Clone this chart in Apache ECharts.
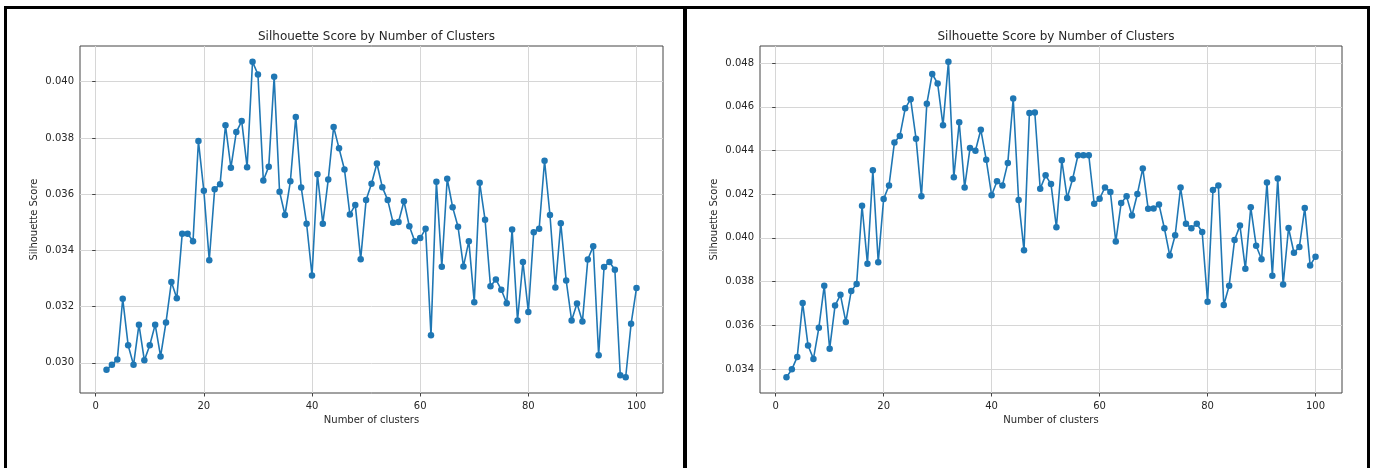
<!DOCTYPE html>
<html><head><meta charset="utf-8">
<script src="https://cdn.jsdelivr.net/npm/echarts@6/dist/echarts.min.js"></script>
<style>
html,body{margin:0;padding:0;background:#fff;}
#wrap{position:relative;width:1373px;height:468px;overflow:hidden;background:#fff;}
#chart{position:absolute;left:0;top:0;width:1373px;height:468px;}
.b{position:absolute;background:#000;}
</style></head><body>
<div id="wrap"><div id="chart"></div>
<div class="b" style="left:4px;top:6px;width:1366px;height:3px"></div>
<div class="b" style="left:4px;top:6px;width:3px;height:470px"></div>
<div class="b" style="left:683px;top:6px;width:4px;height:470px"></div>
<div class="b" style="left:1367px;top:6px;width:3px;height:470px"></div>
</div>
<script>
const clusters = [2,3,4,5,6,7,8,9,10,11,12,13,14,15,16,17,18,19,20,21,22,23,24,25,26,27,28,29,30,31,32,33,34,35,36,37,38,39,40,41,42,43,44,45,46,47,48,49,50,51,52,53,54,55,56,57,58,59,60,61,62,63,64,65,66,67,68,69,70,71,72,73,74,75,76,77,78,79,80,81,82,83,84,85,86,87,88,89,90,91,92,93,94,95,96,97,98,99,100];

const leftScores = [0.02976,0.02993,0.03012,0.03228,0.03063,0.02993,0.03136,0.03009,0.03063,0.03136,
0.03023,0.03144,0.03288,0.03230,0.03459,0.03459,0.03433,0.03789,0.03612,0.03365,
0.03618,0.03635,0.03845,0.03694,0.03821,0.03860,0.03696,0.04071,0.04026,0.03649,
0.03698,0.04018,0.03609,0.03526,0.03646,0.03875,0.03624,0.03495,0.03311,0.03671,
0.03495,0.03652,0.03839,0.03763,0.03688,0.03528,0.03562,0.03369,0.03579,0.03637,
0.03709,0.03625,0.03579,0.03498,0.03501,0.03575,0.03486,0.03433,0.03444,0.03477,
0.03098,0.03644,0.03342,0.03655,0.03554,0.03484,0.03343,0.03433,0.03216,0.03641,
0.03509,0.03273,0.03297,0.03260,0.03212,0.03474,0.03151,0.03359,0.03181,0.03465,
0.03477,0.03719,0.03526,0.03268,0.03497,0.03293,0.03151,0.03211,0.03147,0.03368,
0.03415,0.03027,0.03341,0.03359,0.03331,0.02956,0.02949,0.03139,0.03266];

const rightScores = [0.03362,0.03398,0.03455,0.03702,0.03507,0.03446,0.03588,0.03781,0.03492,0.03690,
0.03739,0.03615,0.03757,0.03789,0.04147,0.03882,0.04309,0.03888,0.04178,0.04240,
0.04437,0.04466,0.04593,0.04635,0.04454,0.04190,0.04614,0.04750,0.04707,0.04515,
0.04806,0.04277,0.04529,0.04231,0.04411,0.04399,0.04495,0.04358,0.04195,0.04259,
0.04240,0.04343,0.04638,0.04173,0.03943,0.04571,0.04574,0.04225,0.04286,0.04246,
0.04048,0.04355,0.04182,0.04269,0.04378,0.04378,0.04378,0.04156,0.04179,0.04231,
0.04210,0.03983,0.04160,0.04190,0.04102,0.04201,0.04318,0.04133,0.04134,0.04153,
0.04044,0.03919,0.04012,0.04230,0.04065,0.04044,0.04065,0.04027,0.03708,0.04219,
0.04240,0.03693,0.03781,0.03990,0.04056,0.03858,0.04140,0.03964,0.03902,0.04253,
0.03827,0.04272,0.03786,0.04045,0.03932,0.03958,0.04137,0.03874,0.03914];

const xTicks = [0,20,40,60,80,100];
const leftYTicks = [0.030,0.032,0.034,0.036,0.038,0.040];
const rightYTicks = [0.034,0.036,0.038,0.040,0.042,0.044,0.046,0.048];

const titleText = 'Silhouette Score by Number of Clusters';
const xName = 'Number of clusters';
const yName = 'Silhouette Score';

function ext(arr){
  const mn = Math.min.apply(null, arr), mx = Math.max.apply(null, arr);
  const m = (mx - mn) * 0.05;
  return [mn - m, mx + m];
}
const xe = ext(clusters), le = ext(leftScores), re = ext(rightScores);

const FONT = 'DejaVu Sans';
const TXT = '#262626';
const grids = [
  {left:80, top:46, width:583, height:347},
  {left:760, top:46, width:582, height:347}
];

function xAxisCfg(i){
  return {
    type:'value', gridIndex:i, min:xe[0], max:xe[1],
    name:xName, nameLocation:'middle', nameGap:22,
    nameTextStyle:{fontFamily:FONT, fontSize:10, color:TXT},
    axisLine:{show:false},
    axisTick:{show:true, length:3.5, inside:false, customValues:xTicks, lineStyle:{color:'#444', width:1}},
    axisLabel:{customValues:xTicks, fontFamily:FONT, fontSize:10, color:TXT, margin:8},
    splitLine:{show:true, lineStyle:{color:'#d6d6d6', width:1}}
  };
}
function yAxisCfg(i, e, ticks){
  return {
    type:'value', gridIndex:i, min:e[0], max:e[1],
    name:yName, nameLocation:'middle', nameGap:41,
    nameTextStyle:{fontFamily:FONT, fontSize:10, color:TXT},
    axisLine:{show:false},
    axisTick:{show:true, length:3.5, inside:false, customValues:ticks, lineStyle:{color:'#444', width:1}},
    axisLabel:{customValues:ticks, fontFamily:FONT, fontSize:10, color:TXT, margin:6,
      formatter:function(v){return v.toFixed(3);}},
    splitLine:{show:true, lineStyle:{color:'#d6d6d6', width:1}}
  };
}
function seriesCfg(i, scores){
  return {
    type:'line', xAxisIndex:i, yAxisIndex:i,
    data: clusters.map(function(c, k){return [c, scores[k]];}),
    symbol:'circle', symbolSize:6.5, showSymbol:true,
    lineStyle:{color:'#1f77b4', width:1.6},
    itemStyle:{color:'#1f77b4'},
    animation:false, silent:true
  };
}

const chart = echarts.init(document.getElementById('chart'), null, {renderer:'canvas'});
chart.setOption({
  animation:false,
  backgroundColor:'#fff',
  title:[
    {text:titleText, left:371.5, top:26, textAlign:'center', textStyle:{fontFamily:FONT, fontSize:12, fontWeight:'normal', color:TXT}},
    {text:titleText, left:1051, top:26, textAlign:'center', textStyle:{fontFamily:FONT, fontSize:12, fontWeight:'normal', color:TXT}}
  ],
  grid: grids.map(function(g){return Object.assign({show:true, borderColor:'#444', borderWidth:1, backgroundColor:'transparent', containLabel:false}, g);}),
  xAxis:[xAxisCfg(0), xAxisCfg(1)],
  yAxis:[yAxisCfg(0, le, leftYTicks), yAxisCfg(1, re, rightYTicks)],
  series:[seriesCfg(0, leftScores), seriesCfg(1, rightScores)]
});
</script>
</body></html>
